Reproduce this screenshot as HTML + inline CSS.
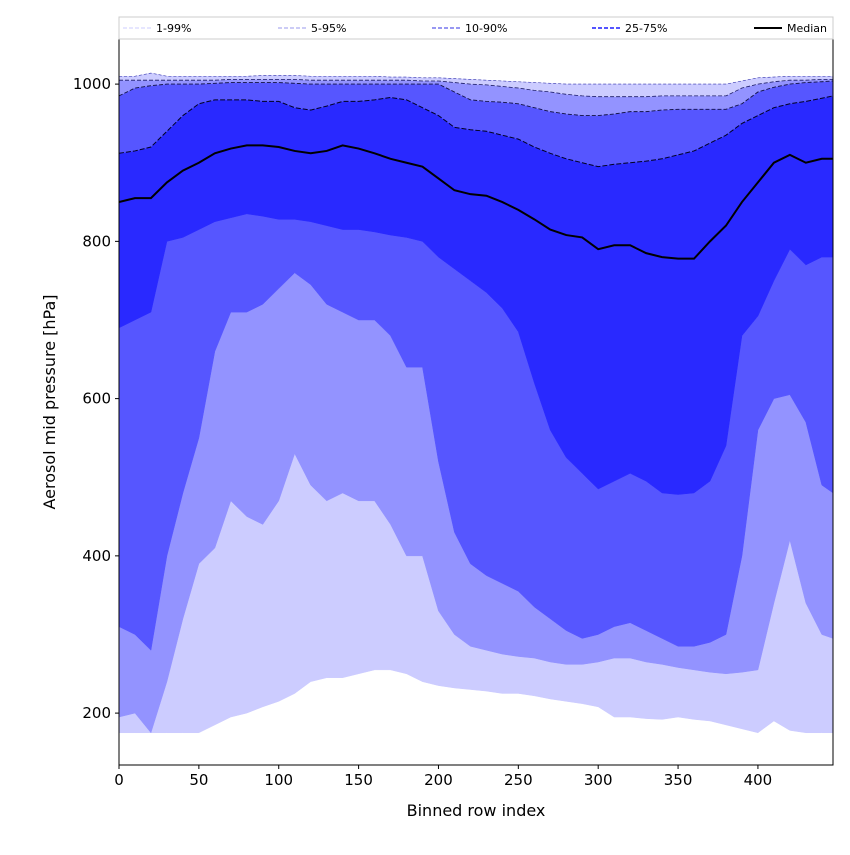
<!DOCTYPE html>
<html><head><meta charset="utf-8"><style>
body{margin:0;background:#fff;font-family:"Liberation Sans","DejaVu Sans",sans-serif}
</style></head><body>
<svg id="chart" width="850" height="850" xmlns="http://www.w3.org/2000/svg" font-family="DejaVu Sans, Liberation Sans, sans-serif"></svg>
<script>
const xs=[0,10,20,30,40,50,60,70,80,90,100,110,120,130,140,150,160,170,180,190,200,210,220,230,240,250,260,270,280,290,300,310,320,330,340,350,360,370,380,390,400,410,420,430,440,447];
const p1=[175,175,175,175,175,175,185,195,200,208,215,225,240,245,245,250,255,255,250,240,235,232,230,228,225,225,222,218,215,212,208,195,195,193,192,195,192,190,185,180,175,190,178,175,175,175];
const p5=[195,200,175,240,320,390,410,470,450,440,470,530,490,470,480,470,470,440,400,400,330,300,285,280,275,272,270,265,262,262,265,270,270,265,262,258,255,252,250,252,255,340,420,340,300,295];
const p10=[310,300,280,400,480,550,660,710,710,720,740,760,745,720,710,700,700,680,640,640,520,430,390,375,365,355,335,320,305,295,300,310,315,305,295,285,285,290,300,400,560,600,605,570,490,480];
const p25=[690,700,710,800,805,815,825,830,835,832,828,828,825,820,815,815,812,808,805,800,780,765,750,735,715,685,620,560,525,505,485,495,505,495,480,478,480,495,540,680,705,750,790,770,780,780];
const p50=[850,855,855,875,890,900,912,918,922,922,920,915,912,915,922,918,912,905,900,895,880,865,860,858,850,840,828,815,808,805,790,795,795,785,780,778,778,800,820,850,875,900,910,900,905,905];
const p75=[912,915,920,940,960,975,980,980,980,978,978,970,967,972,978,978,980,983,980,970,960,945,942,940,935,930,920,912,905,900,895,898,900,902,905,910,915,925,935,950,960,970,975,978,982,985];
const p90=[985,995,998,1000,1000,1000,1001,1002,1002,1002,1002,1001,1000,1000,1000,1000,1000,1000,1000,1000,1000,990,980,978,977,975,970,965,962,960,960,962,965,965,967,968,968,968,968,975,990,996,1000,1002,1003,1004];
const p95=[1005,1005,1005,1005,1005,1005,1005,1006,1006,1006,1006,1006,1005,1005,1005,1005,1005,1005,1005,1004,1004,1002,1000,999,997,995,992,990,987,985,984,984,984,984,985,985,985,985,985,995,1000,1003,1005,1005,1006,1006];
const p99=[1010,1010,1014,1010,1010,1010,1010,1010,1010,1011,1011,1011,1010,1010,1010,1010,1010,1009,1009,1008,1008,1007,1006,1005,1004,1003,1002,1001,1000,1000,1000,1000,1000,1000,1000,1000,1000,1000,1000,1004,1008,1009,1010,1010,1010,1010];
const xTicks=[0,50,100,150,200,250,300,350,400];
const yTicks=[200,400,600,800,1000];
const legendLabels=["1-99%","5-95%","10-90%","25-75%","Median"];

const L=119,R=833,T=38,B=765;
const X=v=>L+v*(R-L)/447;
const Y=v=>765-(v-134)*(629/800);
const NS="http://www.w3.org/2000/svg";
const svg=document.getElementById('chart');
function mk(tag,attrs,parent){const e=document.createElementNS(NS,tag);for(const k in attrs)e.setAttribute(k,attrs[k]);(parent||svg).appendChild(e);return e;}
const clip=mk('clipPath',{id:'pc'});mk('rect',{x:L,y:T,width:R-L,height:B-T},clip);
const g=mk('g',{'clip-path':'url(#pc)'});
function band(lo,hi,col,name){
  let d='M'+xs.map((x,i)=>X(x)+','+Y(hi[i])).join('L');
  for(let i=xs.length-1;i>=0;i--)d+='L'+X(xs[i])+','+Y(lo[i]);
  const p=mk('path',{d:d+'Z',fill:col,stroke:col,'stroke-width':0.5},g);
  
  
}
band(p1,p5,'#ccccff','band-1-5');
band(p5,p10,'#9393ff','band-5-10');
band(p10,p25,'#5656ff','band-10-25');
band(p25,p75,'#2929ff','band-25-75');
band(p75,p90,'#5656ff','band-75-90');
band(p90,p95,'#9393ff','band-90-95');
band(p95,p99,'#ccccff','band-95-99');
function line(arr,col,w,dash,name){
  const p=mk('path',{d:'M'+xs.map((x,i)=>X(x)+','+Y(arr[i])).join('L'),fill:'none',stroke:col,'stroke-width':w,'stroke-dasharray':dash},g);
  
  
}
line(p99,'#3333aa',0.6,'3,2','line-p99');
line(p95,'#1a1a66',0.8,'4,2','line-p95');
line(p90,'#111144',0.9,'4,2','line-p90');
line(p75,'#000022',1,'5,2','line-p75');
line(p50,'#000',2,'','median-line');
mk('rect',{x:L,y:T,width:R-L,height:B-T,fill:'none',stroke:'#000','stroke-width':1});
xTicks.forEach(t=>{
  mk('line',{x1:X(t),x2:X(t),y1:B,y2:B+4,stroke:'#000'});
  const e=mk('text',{x:X(t),y:B+20,'text-anchor':'middle','font-size':15});e.textContent=t;
  
  
});
yTicks.forEach(t=>{
  mk('line',{x1:L-4,x2:L,y1:Y(t),y2:Y(t),stroke:'#000'});
  const e=mk('text',{x:L-8,y:Y(t)+5,'text-anchor':'end','font-size':15});e.textContent=t;
  
  
});
const xt=mk('text',{x:(L+R)/2,y:816,'text-anchor':'middle','font-size':16});xt.textContent='Binned row index';


const yt=mk('text',{x:0,y:0,'text-anchor':'middle','font-size':16,transform:'translate(55,402) rotate(-90)'});yt.textContent='Aerosol mid pressure [hPa]';


// legend
const lg=mk('g',{});


mk('rect',{x:119,y:17,width:714,height:22,fill:'#fff',stroke:'#ccc','stroke-width':1},lg);
const lx=[123,278,432,592,754];
const lcol=['#ccccff','#9999ee','#7777ee','#5555ff','#000'];
const lw=[1,1,1.5,2,2];
legendLabels.forEach((s,i)=>{
  mk('line',{x1:lx[i],x2:lx[i]+28,y1:28,y2:28,stroke:lcol[i],'stroke-width':lw[i],'stroke-dasharray':i<4?'4,2':''},lg);
  const e=mk('text',{x:lx[i]+33,y:32,'font-size':11},lg);e.textContent=s;
  
  
});
</script>
</body></html>
